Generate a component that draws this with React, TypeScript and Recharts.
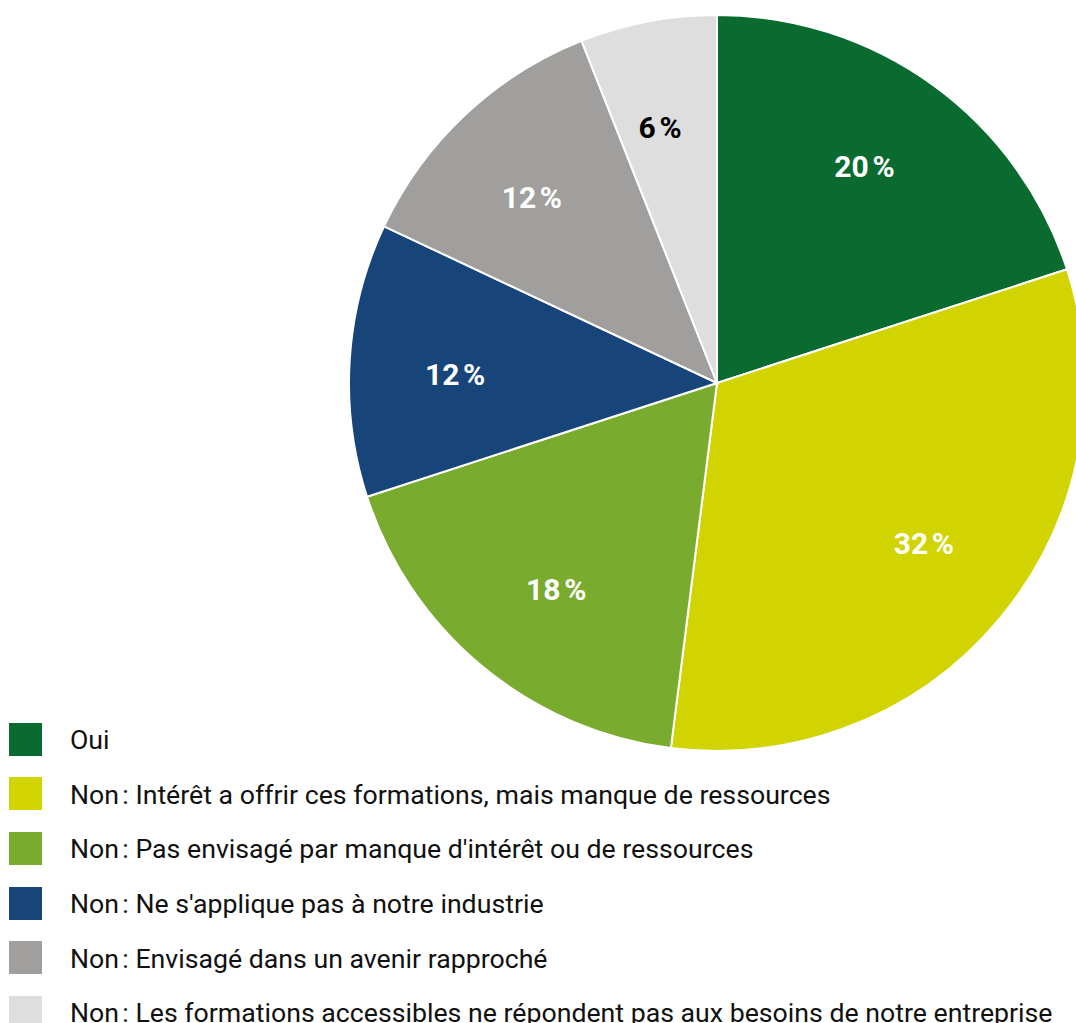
import React from "react";
import { PieChart, Pie, Cell, Legend } from "recharts";

// Répartition des réponses (en %)
const categories = [
  "Oui",
  "Non\u202F: Intérêt a offrir ces formations, mais manque de ressources",
  "Non\u202F: Pas envisagé par manque d'intérêt ou de ressources",
  "Non\u202F: Ne s'applique pas à notre industrie",
  "Non\u202F: Envisagé dans un avenir rapproché",
  "Non\u202F: Les formations accessibles ne répondent pas aux besoins de notre entreprise",
];
const values = [20, 32, 18, 12, 12, 6];
const colors = ["#0A6B31", "#D1D400", "#79AC2E", "#174479", "#A09F9D", "#DEDEDE"];
const labelColors = ["#fff", "#fff", "#fff", "#fff", "#fff", "#000"];

const data = categories.map((name, i) => ({ name, value: values[i] }));

const FONT = "Roboto, 'Noto Sans', sans-serif";
const RADIAN = Math.PI / 180;

function SliceLabel(props: any) {
  const { cx, cy, midAngle, outerRadius, index, value } = props;
  // labels sit a bit counter-clockwise of the slice middle in the original
  const a = (midAngle + 1.75) * RADIAN;
  const r = outerRadius * 0.712;
  const x = cx + r * Math.cos(-a);
  const y = cy + r * Math.sin(-a);
  return (
    <text
      x={x}
      y={y}
      fill={labelColors[index]}
      textAnchor="middle"
      dominantBaseline="central"
      style={{ fontFamily: FONT, fontSize: 30, fontWeight: 700 }}
    >
      {`${value}\u202F%`}
    </text>
  );
}

function LegendList(props: any) {
  const { payload } = props;
  return (
    <div style={{ fontFamily: FONT }}>
      {(payload ?? []).map((entry: any, i: number) => (
        <div
          key={i}
          style={{ display: "flex", alignItems: "center", height: 54.6 }}
        >
          <span
            style={{
              width: 33,
              height: 33,
              background: entry.color,
              display: "inline-block",
              flex: "none",
            }}
          />
          <span
            style={{
              marginLeft: 28,
              fontSize: 26.7,
              color: "#111",
              whiteSpace: "nowrap",
              position: "relative",
              top: 1,
            }}
          >
            {entry.value}
          </span>
        </div>
      ))}
    </div>
  );
}

export default function App() {
  return (
    <div
      style={{
        position: "fixed",
        left: 0,
        top: 0,
        width: 1076,
        height: 1023,
        overflow: "hidden",
        background: "#fff",
      }}
    >
      <PieChart
        width={1076}
        height={1023}
        margin={{ top: 0, right: 0, bottom: 0, left: 0 }}
      >
        <Pie
          data={data}
          dataKey="value"
          nameKey="name"
          cx={717}
          cy={383}
          outerRadius={368}
          startAngle={90}
          endAngle={-270}
          stroke="#fff"
          strokeWidth={2}
          label={SliceLabel}
          labelLine={false}
          isAnimationActive={false}
        >
          {data.map((_, i) => (
            <Cell key={i} fill={colors[i]} />
          ))}
        </Pie>
        <Legend
          layout="horizontal"
          verticalAlign="bottom"
          align="left"
          itemSorter={null}
          content={LegendList}
          wrapperStyle={{ left: 9, top: 712, bottom: "auto", width: 1067 }}
        />
      </PieChart>
    </div>
  );
}
